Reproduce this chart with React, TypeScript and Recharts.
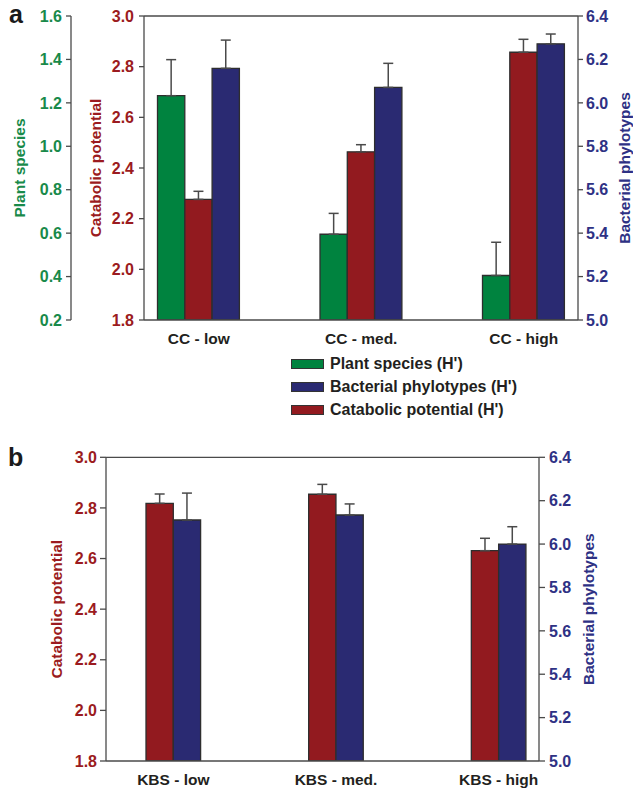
import React from 'react';
import { ComposedChart, Bar, XAxis, YAxis, ErrorBar, ReferenceLine } from 'recharts';

// ---------- data ----------
const ccCategories = ['CC - low', 'CC - med.', 'CC - high'];
const ccPlant = [1.233, 0.595, 0.405];
const ccPlantErr = [0.166, 0.096, 0.153];
const ccCatabolic = [2.276, 2.464, 2.857];
const ccCatabolicErr = [0.032, 0.028, 0.051];
const ccBacterial = [6.159, 6.071, 6.272];
const ccBacterialErr = [0.13, 0.111, 0.045];

const kbsCategories = ['KBS - low', 'KBS - med.', 'KBS - high'];
const kbsCatabolic = [2.818, 2.854, 2.631];
const kbsCatabolicErr = [0.037, 0.039, 0.049];
const kbsBacterial = [6.111, 6.134, 6.0];
const kbsBacterialErr = [0.124, 0.051, 0.08];

const plantTicks = [0.2, 0.4, 0.6, 0.8, 1.0, 1.2, 1.4, 1.6];
const catabolicTicks = [1.8, 2.0, 2.2, 2.4, 2.6, 2.8, 3.0];
const bacterialTicks = [5.0, 5.2, 5.4, 5.6, 5.8, 6.0, 6.2, 6.4];

const legendLabels = ['Plant species (H\')', 'Bacterial phylotypes (H\')', 'Catabolic potential (H\')'];

// ---------- styles ----------
const FONT = '"Liberation Sans", Arial, Helvetica, sans-serif';
const GREEN = '#00833f';
const RED = '#921a1f';
const BLUE = '#2a2a72';
const GREEN_TXT = '#188a4a';
const RED_TXT = '#9b1b20';
const BLUE_TXT = '#2e3184';
const LINE = '#4a4a4a';
const BAR_STROKE = '#2e2e2e';

const ccData = ccCategories.map((name, i) => ({
  name,
  plant: ccPlant[i],
  plantErr: [0, ccPlantErr[i]],
  catabolic: ccCatabolic[i],
  catabolicErr: [0, ccCatabolicErr[i]],
  bacterial: ccBacterial[i],
  bacterialErr: [0, ccBacterialErr[i]],
}));

const kbsData = kbsCategories.map((name, i) => ({
  name,
  catabolic: kbsCatabolic[i],
  catabolicErr: [0, kbsCatabolicErr[i]],
  bacterial: kbsBacterial[i],
  bacterialErr: [0, kbsBacterialErr[i]],
}));

const fmt = (v: number) => v.toFixed(1);

const makeTitle = (text: string, color: string, dx: number) => (props: any) => {
  const vb = props.viewBox || {};
  const cx = (vb.x || 0) + dx;
  const cy = (vb.y || 0) + (vb.height || 0) / 2;
  return (
    <text
      x={cx}
      y={cy}
      transform={`rotate(-90, ${cx}, ${cy})`}
      textAnchor="middle"
      dominantBaseline="central"
      fill={color}
      fontSize={15.5}
      fontWeight="bold"
      fontFamily={FONT}
    >
      {text}
    </text>
  );
};

const CatTick = (props: any) => {
  const { x, y, payload } = props;
  return (
    <text
      x={x}
      y={y + 23.5}
      textAnchor="middle"
      fill="#231f20"
      fontSize={15.5}
      fontWeight="bold"
      fontFamily={FONT}
    >
      {payload.value}
    </text>
  );
};

const tickStyle = (color: string) => ({
  fill: color,
  fontSize: 16,
  fontWeight: 'bold' as const,
  fontFamily: FONT,
});

const axisLineStyle = { stroke: LINE, strokeWidth: 1.3 };

const legendColors = [GREEN, BLUE, RED];

export default function App() {
  return (
    <div
      style={{
        position: 'absolute',
        left: 0,
        top: 0,
        width: 633,
        height: 791,
        background: '#fff',
        fontFamily: FONT,
        overflow: 'hidden',
      }}
    >
      {/* panel labels */}
      <div style={{ position: 'absolute', left: 9, top: 2, fontSize: 25, lineHeight: '25px', fontWeight: 'bold', color: '#1a1a1a' }}>a</div>
      <div style={{ position: 'absolute', left: 8, top: 445, fontSize: 25, lineHeight: '25px', fontWeight: 'bold', color: '#1a1a1a' }}>b</div>

      {/* panel a */}
      <div style={{ position: 'absolute', left: 0, top: 0 }}>
        <ComposedChart
          width={633}
          height={350}
          data={ccData}
          margin={{ top: 16, right: 0, bottom: 0, left: 0 }}
          barGap={0}
        >
          <XAxis
            dataKey="name"
            height={30}
            padding={{ left: -26.5, right: -27 }}
            tickLine={false}
            tickSize={0}
            tickMargin={0}
            axisLine={axisLineStyle}
            tick={<CatTick />}
            interval={0}
          />
          <YAxis
            yAxisId="cat"
            orientation="left"
            width={73}
            domain={[1.8, 3.0]}
            ticks={catabolicTicks}
            tickFormatter={fmt}
            tick={tickStyle(RED_TXT)}
            tickSize={5}
            tickMargin={5}
            tickLine={axisLineStyle}
            axisLine={axisLineStyle}
            allowDataOverflow
            label={makeTitle('Catabolic potential', RED_TXT, 24)}
          />
          <YAxis
            yAxisId="plant"
            orientation="left"
            width={71}
            domain={[0.2, 1.6]}
            ticks={plantTicks}
            tickFormatter={fmt}
            tick={tickStyle(GREEN_TXT)}
            tickSize={5}
            tickMargin={4}
            tickLine={axisLineStyle}
            axisLine={axisLineStyle}
            allowDataOverflow
            label={makeTitle('Plant species', GREEN_TXT, 19)}
          />
          <YAxis
            yAxisId="bact"
            orientation="right"
            width={55}
            domain={[5.0, 6.4]}
            ticks={bacterialTicks}
            tickFormatter={fmt}
            tick={tickStyle(BLUE_TXT)}
            tickSize={5}
            tickMargin={3}
            tickLine={axisLineStyle}
            axisLine={axisLineStyle}
            allowDataOverflow
            label={makeTitle('Bacterial phylotypes', BLUE_TXT, 46)}
          />
          <ReferenceLine yAxisId="cat" y={3.0} stroke={LINE} strokeWidth={1.3} />
          <Bar yAxisId="plant" dataKey="plant" fill={GREEN} stroke={BAR_STROKE} strokeWidth={1.3} barSize={27.3} isAnimationActive={false}>
            <ErrorBar dataKey="plantErr" width={5} stroke={LINE} strokeWidth={1.5} direction="y" />
          </Bar>
          <Bar yAxisId="cat" dataKey="catabolic" fill={RED} stroke={BAR_STROKE} strokeWidth={1.3} barSize={27.3} isAnimationActive={false}>
            <ErrorBar dataKey="catabolicErr" width={5} stroke={LINE} strokeWidth={1.5} direction="y" />
          </Bar>
          <Bar yAxisId="bact" dataKey="bacterial" fill={BLUE} stroke={BAR_STROKE} strokeWidth={1.3} barSize={27.3} isAnimationActive={false}>
            <ErrorBar dataKey="bacterialErr" width={5} stroke={LINE} strokeWidth={1.5} direction="y" />
          </Bar>
        </ComposedChart>
      </div>

      {/* legend for panel a */}
      <div style={{ position: 'absolute', left: 291, top: 352 }}>
        {legendLabels.map((lab, i) => (
          <div key={lab} style={{ display: 'flex', alignItems: 'center', height: 23.3 }}>
            <div
              style={{
                width: 31,
                height: 8,
                background: legendColors[i],
                border: '1px solid #333',
                marginRight: 6,
              }}
            />
            <span style={{ fontSize: 16, fontWeight: 'bold', color: '#231f20', whiteSpace: 'nowrap' }}>{lab}</span>
          </div>
        ))}
      </div>

      {/* panel b */}
      <div style={{ position: 'absolute', left: 0, top: 430 }}>
        <ComposedChart
          width={633}
          height={361}
          data={kbsData}
          margin={{ top: 27.3, right: 0, bottom: 0, left: 0 }}
          barGap={0}
        >
          <XAxis
            dataKey="name"
            height={30}
            padding={{ left: -14, right: -41 }}
            tickLine={false}
            tickSize={0}
            tickMargin={0}
            axisLine={axisLineStyle}
            tick={<CatTick />}
            interval={0}
          />
          <YAxis
            yAxisId="cat"
            orientation="left"
            width={106}
            domain={[1.8, 3.0]}
            ticks={catabolicTicks}
            tickFormatter={fmt}
            tick={tickStyle(RED_TXT)}
            tickSize={6}
            tickMargin={3}
            tickLine={axisLineStyle}
            axisLine={axisLineStyle}
            allowDataOverflow
            label={makeTitle('Catabolic potential', RED_TXT, 57)}
          />
          <YAxis
            yAxisId="bact"
            orientation="right"
            width={94}
            domain={[5.0, 6.4]}
            ticks={bacterialTicks}
            tickFormatter={fmt}
            tick={tickStyle(BLUE_TXT)}
            tickSize={6}
            tickMargin={4}
            tickLine={axisLineStyle}
            axisLine={axisLineStyle}
            allowDataOverflow
            label={makeTitle('Bacterial phylotypes', BLUE_TXT, 50)}
          />
          <ReferenceLine yAxisId="cat" y={3.0} stroke={LINE} strokeWidth={1.3} />
          <Bar yAxisId="cat" dataKey="catabolic" fill={RED} stroke={BAR_STROKE} strokeWidth={1.3} barSize={27.3} isAnimationActive={false}>
            <ErrorBar dataKey="catabolicErr" width={5} stroke={LINE} strokeWidth={1.5} direction="y" />
          </Bar>
          <Bar yAxisId="bact" dataKey="bacterial" fill={BLUE} stroke={BAR_STROKE} strokeWidth={1.3} barSize={27.3} isAnimationActive={false}>
            <ErrorBar dataKey="bacterialErr" width={5} stroke={LINE} strokeWidth={1.5} direction="y" />
          </Bar>
        </ComposedChart>
      </div>
    </div>
  );
}
